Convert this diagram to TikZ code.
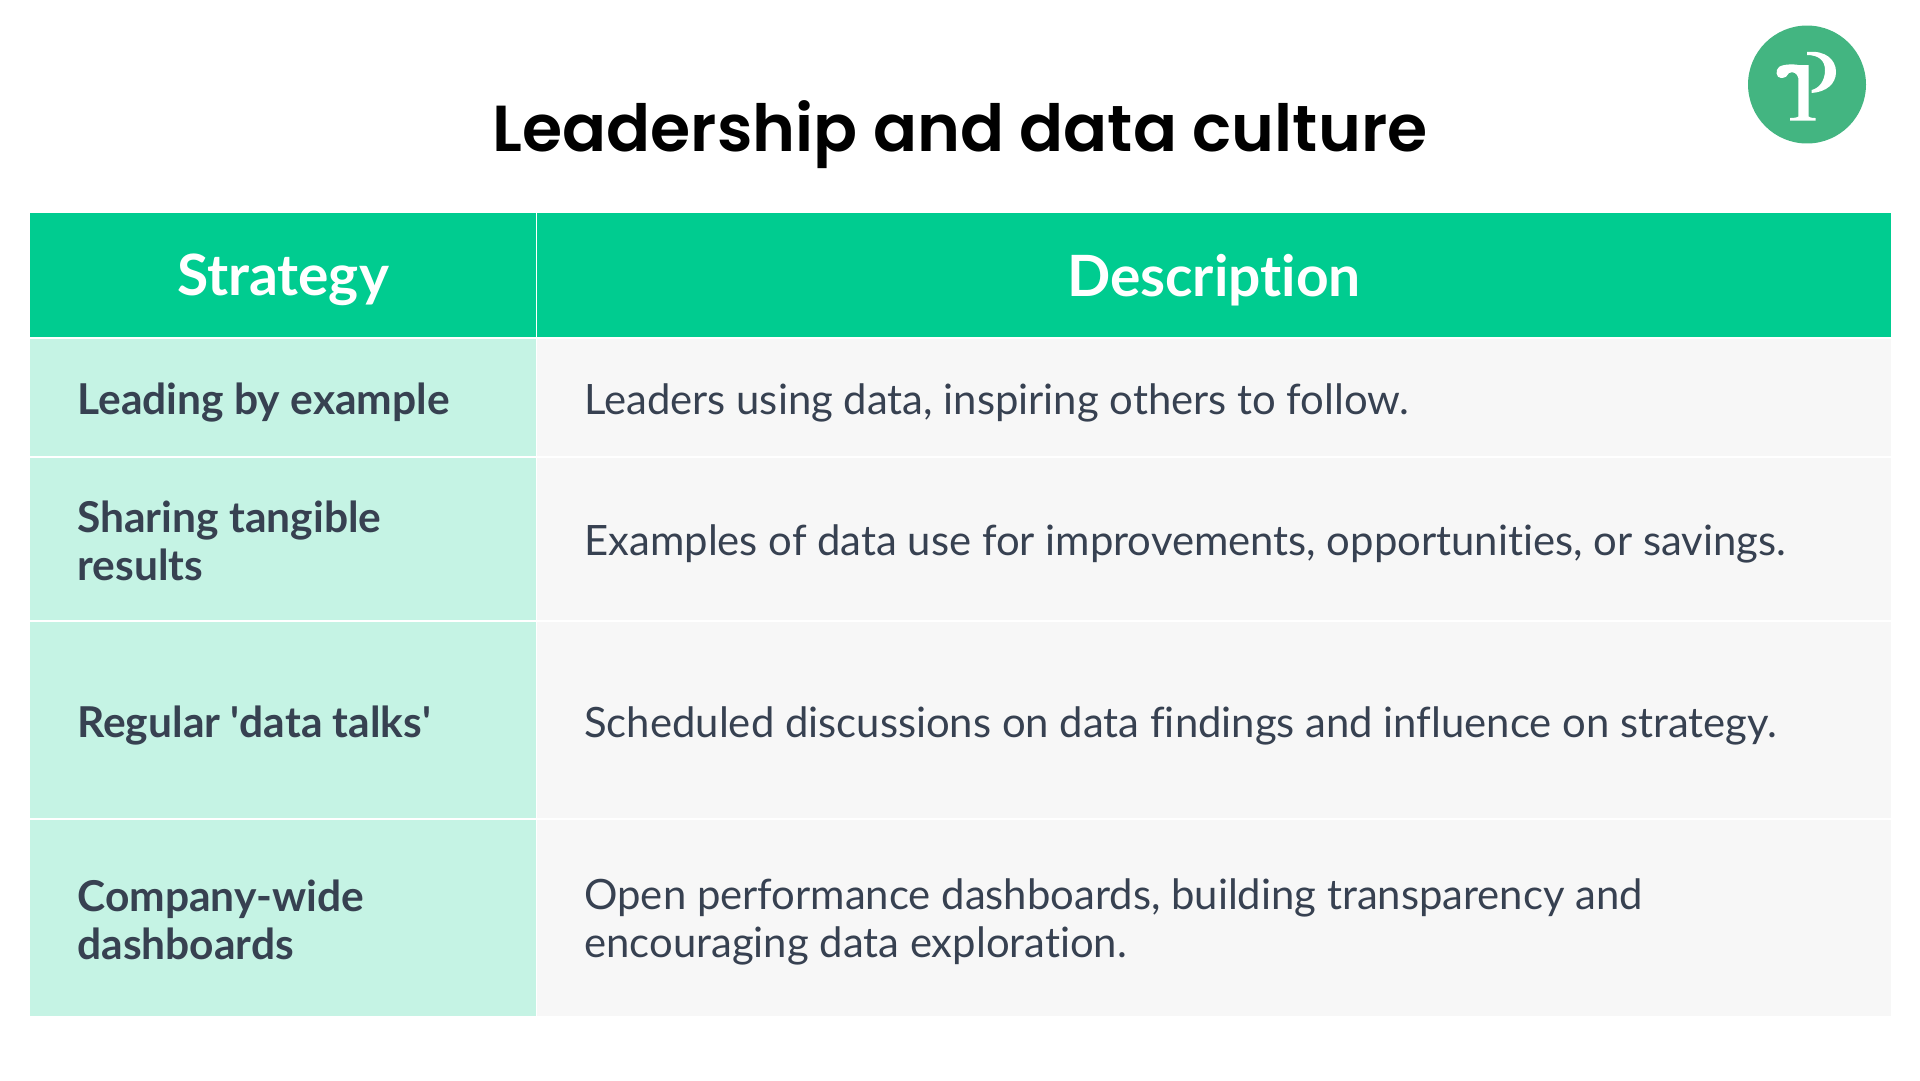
\documentclass[tikz,border=0pt]{standalone}
\usepackage{xcolor}
\usepackage{fontspec}
\setmainfont{Lato}[Ligatures={NoCommon}]
\newfontfamily\titlefont{Poppins SemiBold}
\definecolor{headgreen}{HTML}{00CC90}
\definecolor{rowgreen}{HTML}{C5F3E4}
\definecolor{rowgrey}{HTML}{F7F7F7}
\definecolor{inkdark}{HTML}{374151}
\definecolor{logogreen}{HTML}{43B581}
\begin{document}
\begin{tikzpicture}[
  x=0.02cm,y=-0.02cm,
  cell/.style={draw=white,line width=0.6pt,anchor=north west,inner sep=0pt,outer sep=0pt,minimum width=#1},
  headcell/.style={cell=#1,fill=headgreen,minimum height=2.52cm},
  headtext/.style={text=white,inner sep=0pt,font=\fontsize{32.4}{36}\selectfont\bfseries},
  leftcell/.style={cell=10.14cm,fill=rowgreen,minimum height=#1},
  rightcell/.style={cell=27.1cm,fill=rowgrey,minimum height=#1},
  lefttext/.style={anchor=west,align=left,text=inkdark,inner sep=0pt,font=\fontsize{24.2}{27.4}\selectfont\bfseries},
  righttext/.style={anchor=west,align=left,text=inkdark,inner sep=0pt,font=\fontsize{23.8}{27.4}\selectfont}
]
\useasboundingbox (0,0) rectangle (1920,1080);

\node[font=\titlefont\fontsize{37}{44}\selectfont,text=black] (title) at (960,135) {Leadership and data culture};

% header row
\node[headcell=10.14cm] (hstrategy) at (29.4,212) {};
\node[headcell=27.1cm] (hdescription) at (536.5,212) {};
\node[headtext] (tstrategy) at (283,280) {Strategy};
\node[headtext] (tdescription) at (1214,280) {Description};

% body rows
\node[leftcell=2.38cm] (s1) at (29.4,338) {};
\node[rightcell=2.38cm] (d1) at (536.5,338) {};
\node[leftcell=3.28cm] (s2) at (29.4,457) {};
\node[rightcell=3.28cm] (d2) at (536.5,457) {};
\node[leftcell=3.96cm] (s3) at (29.4,621) {};
\node[rightcell=3.96cm] (d3) at (536.5,621) {};
\node[leftcell=3.94cm] (s4) at (29.4,819.5) {};
\node[rightcell=3.94cm] (d4) at (536.5,819.5) {};

% cell texts
\node[lefttext] (ts1) at (77,402.5) {Leading by example};
\node[righttext] (td1) at (584,402.5) {Leaders using data, inspiring others to follow.};
\node[lefttext] (ts2) at (77,540.5) {Sharing tangible\\results};
\node[righttext] (td2) at (584,543.5) {Examples of data use for improvements, opportunities, or savings.};
\node[lefttext] (ts3) at (77,725.5) {Regular \textquotesingle data talks\textquotesingle};
\node[righttext] (td3) at (584,725.5) {Scheduled discussions on data findings and influence on strategy.};
\node[lefttext] (ts4) at (77,919.5) {Company-wide\\dashboards};
\node[righttext] (td4) at (584,922) {Open performance dashboards, building transparency and\\encouraging data exploration.};

% logo
\node[circle,fill=logogreen,minimum size=2.36cm,inner sep=0pt] (logo) at (1807,84.5) {};
\fill[white] (1798.3,65) -- (1808.5,65) -- (1808.5,116.5) .. controls (1809,117.5) and (1812,118) .. (1815.5,118) -- (1815.5,120.5) -- (1790,120.5) -- (1790,118) .. controls (1794,118) and (1797.5,117.5) .. (1798.3,116.5) -- (1798.3,78)
  .. controls (1797,73) and (1793,71) .. (1789,73) .. controls (1788,76) and (1785,78) .. (1781,78) .. controls (1776,78) and (1775,70) .. (1779,67) .. controls (1783,64) and (1794,64) .. (1798.3,65) -- cycle;
\fill[white] (1807,52) .. controls (1826,50) and (1836,60) .. (1836,72) .. controls (1836,84) and (1826,92) .. (1811.5,93) -- (1811.5,90) .. controls (1820,88) and (1825,80) .. (1825,70) .. controls (1825,60) and (1818,55) .. (1807,55) -- cycle;
\end{tikzpicture}
\end{document}
